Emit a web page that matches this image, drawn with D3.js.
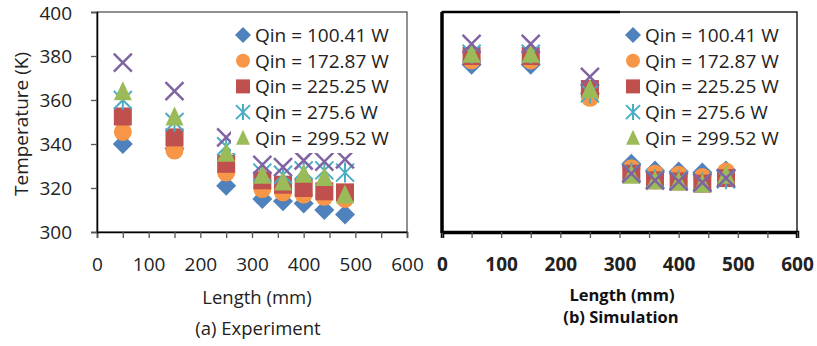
<!DOCTYPE html>
<html>
<head>
<meta charset="utf-8">
<script src="https://cdn.jsdelivr.net/npm/d3@7"></script>
<style>
  body { margin: 0; background: #fff; }
  svg { display: block; font-family: "Open Sans", sans-serif; }
</style>
</head>
<body>
<svg id="chart" width="817" height="346"></svg>
<script>
// lengths along the pipe (mm)
const lengths = [50, 150, 250, 320, 360, 400, 440, 480];

// series names (last series has no legend entry in the original)
const seriesNames = ["Qin = 100.41 W", "Qin = 172.87 W", "Qin = 225.25 W", "Qin = 275.6 W", "Qin = 299.52 W", ""];

// (a) experiment temperatures (K)
const expQ100 = [340, 338, 321, 315, 314, 313, 310, 308];
const expQ173 = [345.5, 337, 327, 319.5, 318, 317, 316, 315];
const expQ225 = [352.5, 343, 331, 323.5, 321.5, 320, 318.5, 318];
const expQ276 = [360, 350, 339, 327, 326, 328, 328, 327];
const expQ300 = [364, 352.5, 336, 326, 323, 326.5, 325, 317];
const expQ340 = [377, 364, 343, 330.5, 329.5, 332.5, 332, 333];

// (b) simulation temperatures (K)
const simQ100 = [376, 376, 363, 331, 328, 327.5, 327, 328];
const simQ173 = [378, 378, 361, 329, 326.5, 326, 325, 327.5];
const simQ225 = [380, 380, 365, 326.5, 323.5, 323, 322, 324.5];
const simQ276 = [381, 381, 363, 327, 324, 323.5, 322.5, 324];
const simQ300 = [381, 381, 365, 326, 323.5, 323, 322, 326];
const simQ340 = [385.5, 385.5, 370.5, 326.5, 323.5, 323, 322.5, 324.5];

const xTicks = d3.range(0, 601, 50);
const xLabels = [0, 100, 200, 300, 400, 500, 600];
const yTicks = [300, 320, 340, 360, 380, 400];

const colors = ["#4F81BD", "#F79646", "#C0504D", "#4BACC6", "#9BBB59", "#8064A2"];
const shapes = ["diamond", "circle", "square", "star", "triangle", "x"];

const svg = d3.select("#chart");

// marker drawing
function marker(g, shape, color, s) {
  const h = s / 2;
  if (shape === "diamond") {
    g.append("path").attr("d", `M0,${-h - 1}L${h + 1},0L0,${h + 1}L${-h - 1},0Z`).attr("fill", color);
  } else if (shape === "circle") {
    g.append("circle").attr("r", h).attr("fill", color);
  } else if (shape === "square") {
    g.append("rect").attr("x", -h).attr("y", -h).attr("width", s).attr("height", s).attr("fill", color);
  } else if (shape === "triangle") {
    g.append("path").attr("d", `M0,${-h - 1}L${h},${h}L${-h},${h}Z`).attr("fill", color);
  } else if (shape === "star") {
    g.append("path")
      .attr("d", `M${-h},${-h}L${h},${h}M${h},${-h}L${-h},${h}M0,${-h - 1}L0,${h + 1}`)
      .attr("stroke", color).attr("stroke-width", 2).attr("fill", "none");
  } else if (shape === "x") {
    g.append("path")
      .attr("d", `M${-h},${-h}L${h},${h}M${h},${-h}L${-h},${h}`)
      .attr("stroke", color).attr("stroke-width", 2.5).attr("fill", "none");
  }
}

function panel(opts) {
  const { x0, x1, y0, y1, data, bold, legendX, legendW } = opts;
  const x = d3.scaleLinear().domain([0, 600]).range([x0, x1]);
  const y = d3.scaleLinear().domain([300, 400]).range([y1, y0]);
  const g = svg.append("g");

  // frame
  g.append("rect").attr("x", x0).attr("y", y0).attr("width", x1 - x0).attr("height", y1 - y0)
    .attr("fill", "#fff").attr("stroke", "#222").attr("stroke-width", opts.frameW);

  // x axis
  const xa = g.append("g").attr("transform", `translate(0,${y1})`)
    .call(d3.axisBottom(x).tickValues(xTicks).tickSize(6).tickPadding(20)
      .tickFormat(d => xLabels.includes(d) ? d : ""));
  xa.select(".domain").attr("stroke", "#000").attr("stroke-width", opts.axisW);
  xa.selectAll(".tick line").attr("stroke", "#555").attr("stroke-width", 1.3);
  xa.selectAll("text").attr("font-size", 19).attr("fill", "#222")
    .attr("font-family", "'Open Sans', sans-serif")
    .attr("font-weight", bold ? 700 : 400);

  // points
  data.forEach((vals, si) => {
    lengths.forEach((l, i) => {
      const m = g.append("g").attr("transform", `translate(${x(l)},${y(vals[i])})`);
      marker(m, shapes[si], colors[si], 18);
    });
  });

  // legend
  const lg = g.append("g");
  lg.append("rect").attr("x", legendX - 12).attr("y", y0 + 1).attr("width", legendW).attr("height", 140).attr("fill", "#fff");
  seriesNames.forEach((name, si) => {
    if (!name) return;
    const ly = y0 + 23 + si * 25.7;
    const m = lg.append("g").attr("transform", `translate(${legendX},${ly})`);
    marker(m, shapes[si], colors[si], 14);
    lg.append("text").attr("x", legendX + 12).attr("y", ly).attr("dy", "0.36em")
      .attr("font-size", 19).attr("fill", "#222").text(name);
  });

  return { x, y, g };
}

// (a) experiment
const left = panel({
  x0: 97, x1: 407, y0: 12, y1: 232, bold: false,
  frameW: 1, axisW: 1.5, legendX: 243, legendW: 162,
  data: [expQ100, expQ173, expQ225, expQ276, expQ300, expQ340]
});
const ya = left.g.append("g").attr("transform", "translate(97,0)")
  .call(d3.axisLeft(left.y).tickValues(yTicks).tickSize(6).tickPadding(19));
ya.select(".domain").attr("stroke", "#000").attr("stroke-width", 1.5);
ya.selectAll(".tick line").attr("stroke", "#555").attr("stroke-width", 1.3);
ya.selectAll("text").attr("font-size", 19).attr("fill", "#222").attr("font-family", "'Open Sans', sans-serif")
  .attr("dy", d => d === 400 ? "0.42em" : "0.32em");

svg.append("text").attr("transform", "translate(21,124) rotate(-90)")
  .attr("text-anchor", "middle").attr("dy", "0.36em")
  .attr("font-size", 19).attr("fill", "#222").text("Temperature (K)");
svg.append("text").attr("x", 257).attr("y", 297).attr("dy", "0.36em").attr("text-anchor", "middle")
  .attr("font-size", 18.5).attr("fill", "#222").text("Length (mm)");
svg.append("text").attr("x", 258).attr("y", 328).attr("dy", "0.36em").attr("text-anchor", "middle")
  .attr("font-size", 18.5).attr("fill", "#222").text("(a) Experiment");

// (b) simulation
const right = panel({
  x0: 442, x1: 797, y0: 12, y1: 232, bold: true,
  frameW: 1.5, axisW: 3.5, legendX: 633, legendW: 164,
  data: [simQ100, simQ173, simQ225, simQ276, simQ300, simQ340]
});
right.g.append("line").attr("x1", 442).attr("x2", 442).attr("y1", 12).attr("y2", 233)
  .attr("stroke", "#000").attr("stroke-width", 3.5);
right.g.append("line").attr("x1", 442).attr("x2", 620).attr("y1", 12).attr("y2", 12)
  .attr("stroke", "#000").attr("stroke-width", 2.5);

svg.append("text").attr("x", 622).attr("y", 295).attr("dy", "0.36em").attr("text-anchor", "middle")
  .attr("font-size", 16.5).attr("font-weight", 700).attr("fill", "#111").text("Length (mm)");
svg.append("text").attr("x", 621).attr("y", 317).attr("dy", "0.36em").attr("text-anchor", "middle")
  .attr("font-size", 16.5).attr("font-weight", 700).attr("fill", "#111").text("(b) Simulation");
</script>
</body>
</html>
